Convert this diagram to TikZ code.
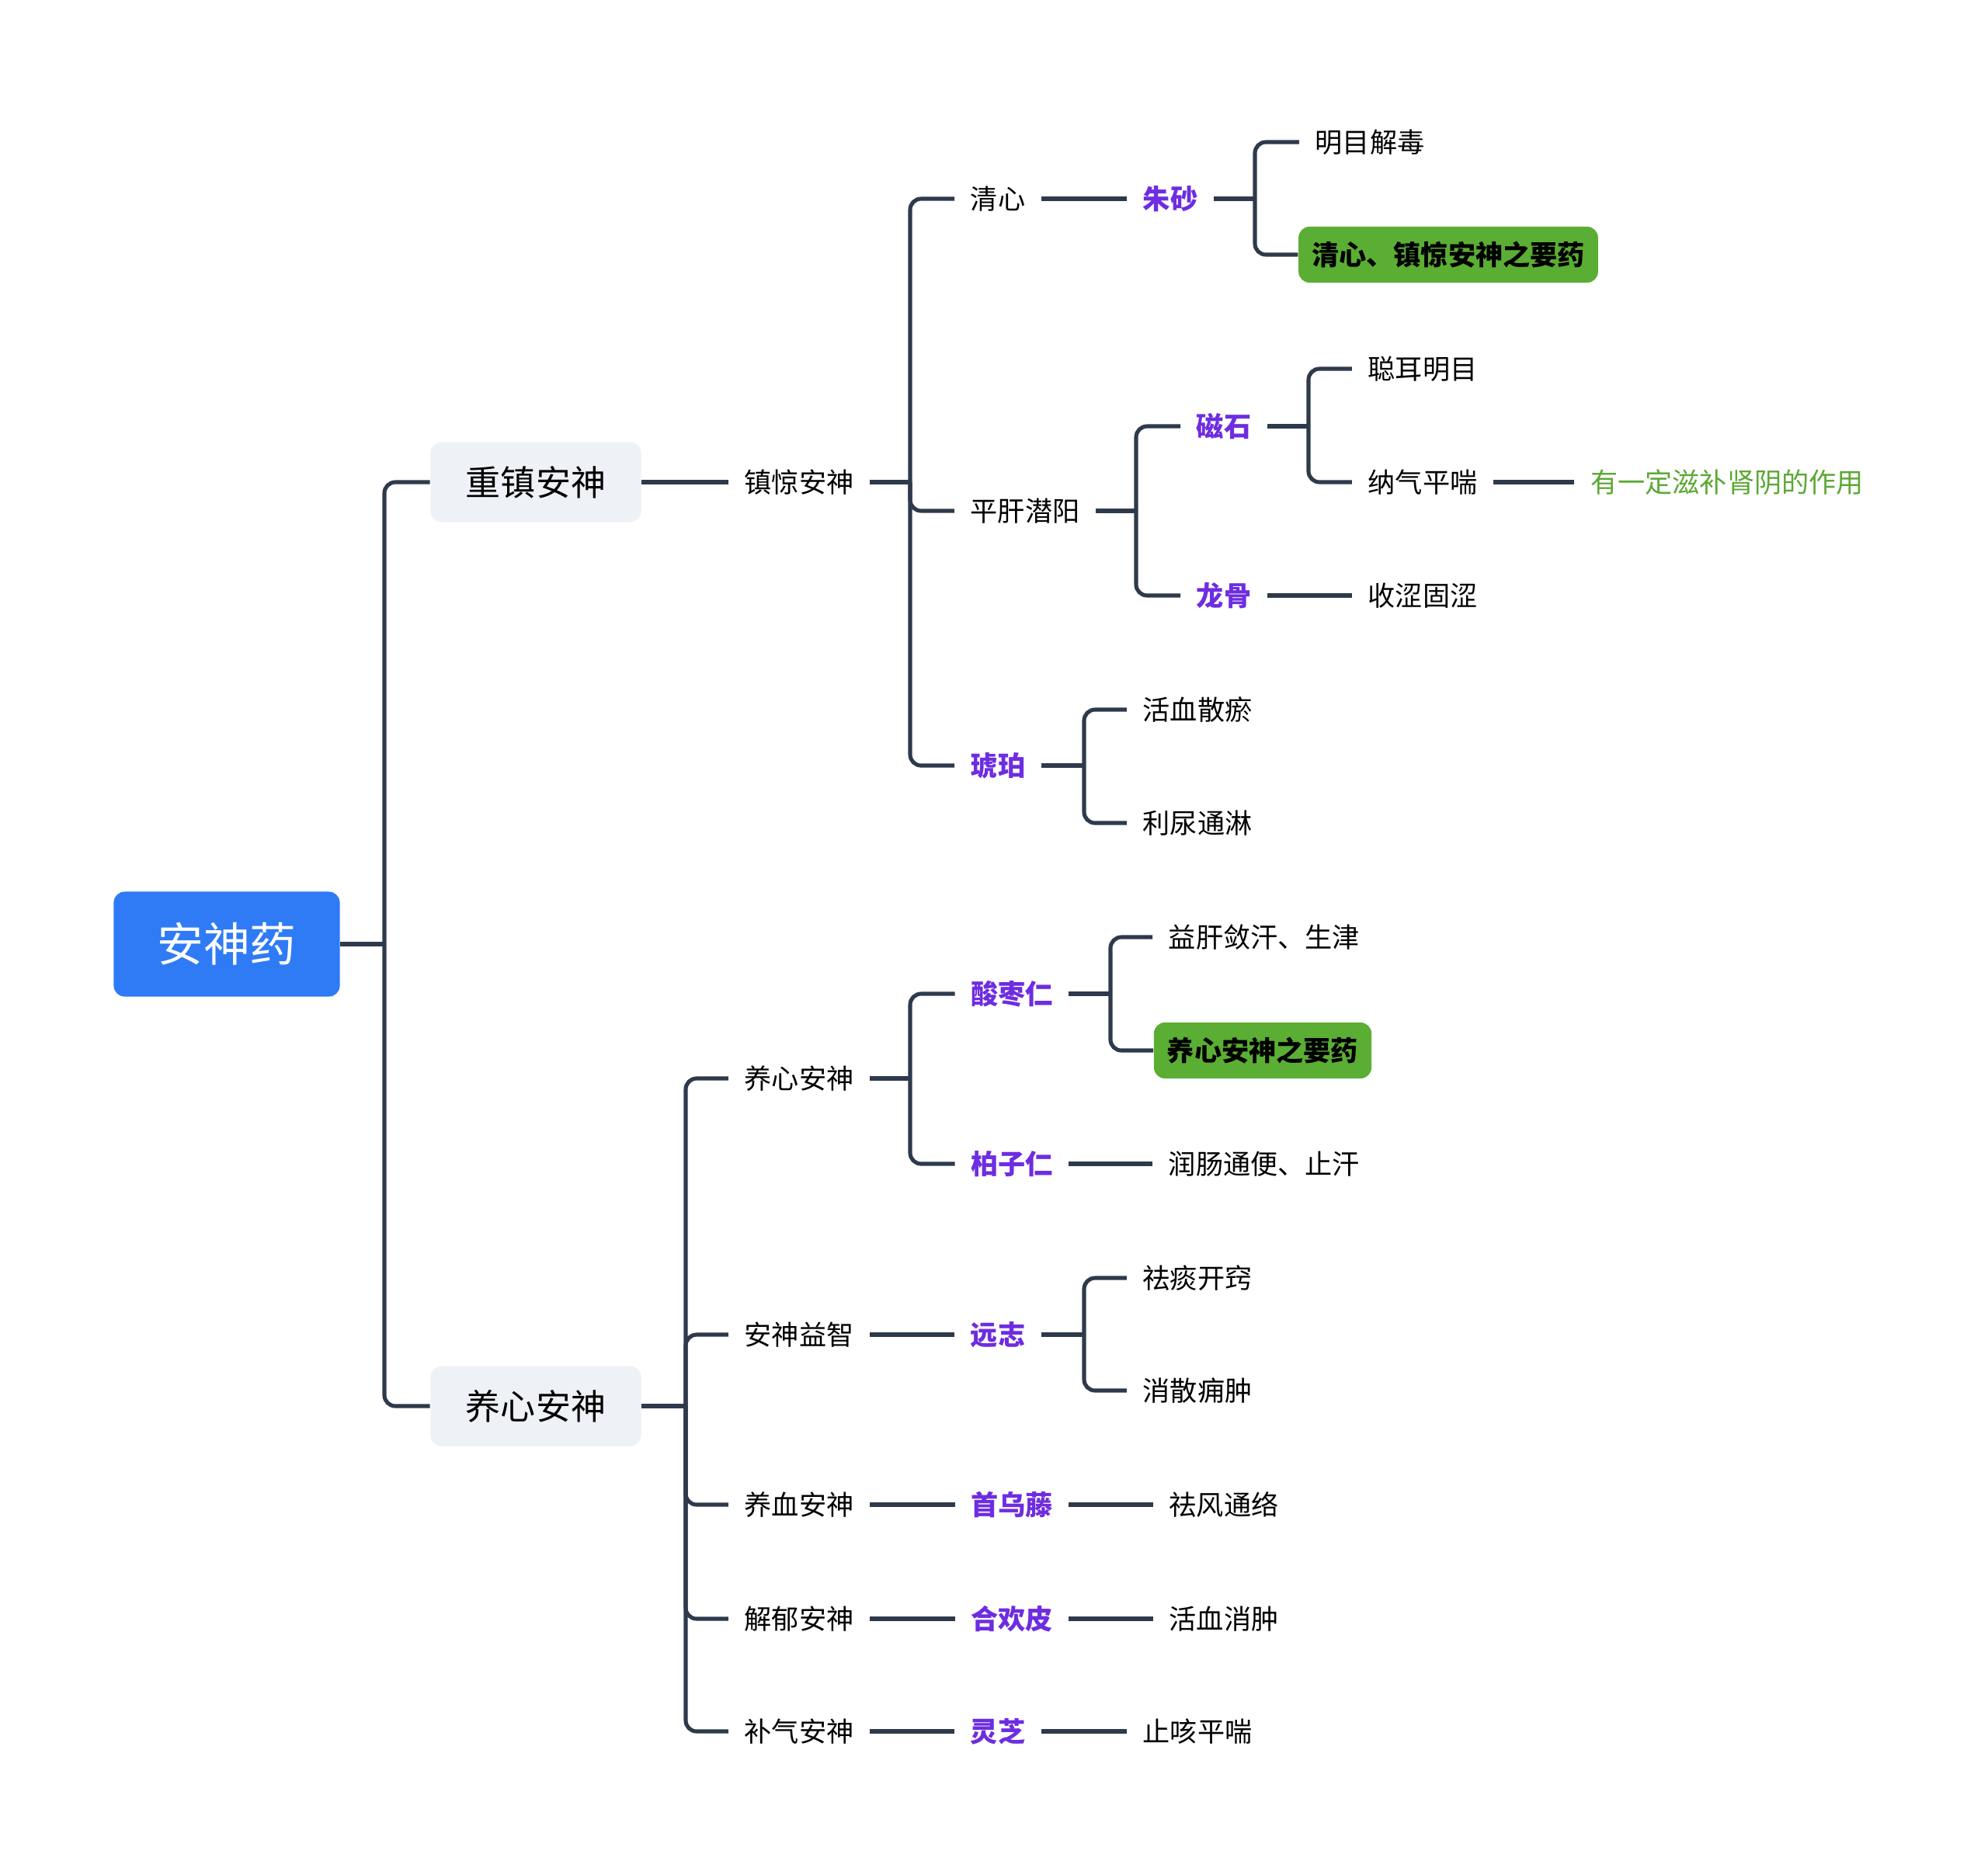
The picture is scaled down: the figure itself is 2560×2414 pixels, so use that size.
\documentclass[tikz,border=0pt]{standalone}
\usepackage{fontspec}
\setmainfont{Noto Sans CJK SC}
\definecolor{linec}{HTML}{2E3A4C}
\definecolor{rootblue}{HTML}{2F7BF6}
\definecolor{catgray}{HTML}{EEF1F5}
\definecolor{keygreen}{HTML}{5BAE34}
\definecolor{drugpurple}{HTML}{6E2DE0}
\definecolor{notegreen}{HTML}{5CA834}
\tikzset{
  conn/.style={draw=linec, line width=1.45pt, rounded corners=4pt},
  txt/.style={font=\fontsize{10}{12}\selectfont, text=black, inner xsep=0.2cm, inner ysep=2pt},
  drug/.style={txt, text=drugpurple, font=\fontsize{10}{12}\selectfont\bfseries},
  note/.style={txt, text=notegreen},
  keybox/.style={fill=keygreen, rounded corners=4pt, font=\fontsize{10}{12}\selectfont\bfseries, text=black, inner xsep=0.17cm, minimum height=0.72cm},
  catbox/.style={fill=catgray, rounded corners=4pt, font=\fontsize{12.8}{15}\selectfont, text=black, minimum width=2.71cm, minimum height=1.03cm},
  rootbox/.style={fill=rootblue, rounded corners=4pt, font=\fontsize{17}{20}\selectfont, text=white, minimum width=2.91cm, minimum height=1.35cm}
}
\begin{document}
\begin{tikzpicture}[x=0.01cm, y=-0.01cm]
\useasboundingbox (0,0) rectangle (2560,2414);
% nodes
\node[rootbox] (root) at (292,1216) {安神药};
\node[catbox] (a1) at (690,621) {重镇安神};
\node[catbox] (a2) at (690,1811) {养心安神};
\node[txt] (b1) at (1029,621) {镇惊安神};
\node[txt] (c1) at (1285,256) {清心};
\node[txt] (c2) at (1320,658) {平肝潜阳};
\node[drug] (c3) at (1285,986) {琥珀};
\node[drug] (d1) at (1507,256) {朱砂};
\node[txt] (e1) at (1764,183) {明目解毒};
\node[keybox] (e2) at (1865,328) {清心、镇惊安神之要药};
\node[drug] (d2) at (1576,549) {磁石};
\node[drug] (d3) at (1576,767) {龙骨};
\node[txt] (e3) at (1832,475) {聪耳明目};
\node[txt] (e4) at (1832,621) {纳气平喘};
\node[note] (f1) at (2224,621) {有一定滋补肾阴的作用};
\node[txt] (e5) at (1832,767) {收涩固涩};
\node[txt] (d4) at (1542,914) {活血散瘀};
\node[txt] (d5) at (1542,1060) {利尿通淋};
\node[txt] (b2) at (1029,1389) {养心安神};
\node[txt] (b3) at (1029,1719) {安神益智};
\node[txt] (b4) at (1029,1938) {养血安神};
\node[txt] (b5) at (1029,2085) {解郁安神};
\node[txt] (b6) at (1029,2230) {补气安神};
\node[drug] (c4) at (1303,1280) {酸枣仁};
\node[drug] (c5) at (1303,1499) {柏子仁};
\node[txt] (e6) at (1628,1207) {益肝敛汗、生津};
\node[keybox] (e7) at (1626,1353) {养心安神之要药};
\node[txt] (e8) at (1628,1499) {润肠通便、止汗};
\node[drug] (c6) at (1285,1719) {远志};
\node[txt] (e9) at (1542,1646) {祛痰开窍};
\node[txt] (e10) at (1542,1791) {消散痈肿};
\node[drug] (c7) at (1303,1938) {首乌藤};
\node[txt] (e11) at (1576,1938) {祛风通络};
\node[drug] (c8) at (1303,2085) {合欢皮};
\node[txt] (e12) at (1576,2085) {活血消肿};
\node[drug] (c9) at (1285,2230) {灵芝};
\node[txt] (e13) at (1542,2230) {止咳平喘};
% junctions
\coordinate (j0) at (495,1216);
\coordinate (j1) at (1172,621);
\coordinate (j2) at (1616,256);
\coordinate (j3) at (1463,658);
\coordinate (j4) at (1685,549);
\coordinate (j5) at (1396,986);
\coordinate (j6) at (883,1811);
\coordinate (j7) at (1172,1389);
\coordinate (j8) at (1430,1280);
\coordinate (j9) at (1396,1719);
% connectors
\draw[conn] (root.east) -- (j0);
\draw[conn] (j0) |- (a1.west);
\draw[conn] (j0) |- (a2.west);
\draw[conn] (a1.east) -- (b1.west);
\draw[conn] (b1.east) -- (j1);
\draw[conn] (j1) |- (c1.west);
\draw[conn] (j1) |- (c2.west);
\draw[conn] (j1) |- (c3.west);
\draw[conn] (c1.east) -- (d1.west);
\draw[conn] (d1.east) -- (j2);
\draw[conn] (j2) |- (e1.west);
\draw[conn] (j2) |- (e2.west);
\draw[conn] (c2.east) -- (j3);
\draw[conn] (j3) |- (d2.west);
\draw[conn] (j3) |- (d3.west);
\draw[conn] (d2.east) -- (j4);
\draw[conn] (j4) |- (e3.west);
\draw[conn] (j4) |- (e4.west);
\draw[conn] (e4.east) -- (f1.west);
\draw[conn] (d3.east) -- (e5.west);
\draw[conn] (c3.east) -- (j5);
\draw[conn] (j5) |- (d4.west);
\draw[conn] (j5) |- (d5.west);
\draw[conn] (a2.east) -- (j6);
\draw[conn] (j6) |- (b2.west);
\draw[conn] (j6) |- (b3.west);
\draw[conn] (j6) |- (b4.west);
\draw[conn] (j6) |- (b5.west);
\draw[conn] (j6) |- (b6.west);
\draw[conn] (b2.east) -- (j7);
\draw[conn] (j7) |- (c4.west);
\draw[conn] (j7) |- (c5.west);
\draw[conn] (c4.east) -- (j8);
\draw[conn] (j8) |- (e6.west);
\draw[conn] (j8) |- (e7.west);
\draw[conn] (c5.east) -- (e8.west);
\draw[conn] (b3.east) -- (c6.west);
\draw[conn] (c6.east) -- (j9);
\draw[conn] (j9) |- (e9.west);
\draw[conn] (j9) |- (e10.west);
\draw[conn] (b4.east) -- (c7.west);
\draw[conn] (c7.east) -- (e11.west);
\draw[conn] (b5.east) -- (c8.west);
\draw[conn] (c8.east) -- (e12.west);
\draw[conn] (b6.east) -- (c9.west);
\draw[conn] (c9.east) -- (e13.west);
\end{tikzpicture}
\end{document}
